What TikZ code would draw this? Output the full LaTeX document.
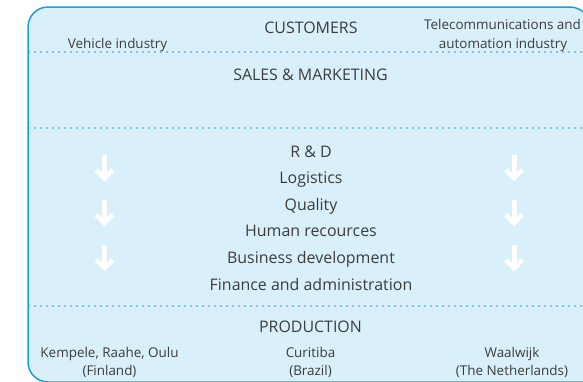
\documentclass[tikz,border=0pt]{standalone}
\usepackage{fontspec}
\setmainfont{Open Sans}
\definecolor{boxfill}{HTML}{D9F0FA}
\definecolor{boxline}{HTML}{1A9FDB}
\definecolor{txt}{HTML}{3C3C3C}
\begin{document}
\begin{tikzpicture}[x=1bp,y=-1bp,
  big/.style={font=\fontsize{16}{19}\selectfont, text=txt, anchor=base, inner sep=0pt},
  small/.style={font=\fontsize{13.5}{16}\selectfont, text=txt, anchor=base, inner sep=0pt},
  sepline/.style={draw=boxline, line width=1.8bp, dash pattern=on 0pt off 6bp, line cap=round},
  downarrow/.pic={
    \draw[white, line width=5bp] (0,0) -- (0,22);
    \draw[white, line width=4.5bp, line join=miter, miter limit=4] (-8.3,14.8) -- (0,23.2) -- (8.3,14.8);
  }]
\useasboundingbox (0,0) rectangle (583,381);
\begin{scope}
\clip (0,0) rectangle (583,381);
\draw[boxline, fill=boxfill, line width=1.5bp, rounded corners=20bp]
  (620,382) -- (28,382) -- (28,7) -- (590,7) -- (590,420);
\coordinate (l1a) at (29,52);  \coordinate (l1b) at (583,52);
\coordinate (l2a) at (29,128); \coordinate (l2b) at (583,128);
\coordinate (l3a) at (29,306); \coordinate (l3b) at (583,306);
\draw[sepline] (l1a) -- (l1b);
\draw[sepline] (l2a) -- (l2b);
\draw[sepline] (l3a) -- (l3b);
\end{scope}

\node[big] (cust) at (311,33) {CUSTOMERS};
\node[small] (veh) at (117.5,48) {Vehicle industry};
\node[small] (tel1) at (502.5,29) {Telecommunications and};
\node[small] (tel2) at (503,48) {automation industry};
\node[big] (sales) at (310.5,80) {SALES \& MARKETING};

\node[big] (rd) at (311,157) {R \& D};
\node[big] (log) at (311,183) {Logistics};
\node[big] (qual) at (311,210) {Quality};
\node[big] (hr) at (311,236.5) {Human recources};
\node[big] (bd) at (311,263) {Business development};
\node[big] (fin) at (311,290) {Finance and administration};

\node[big] (prod) at (310.5,332) {PRODUCTION};
\node[small] (kem) at (109.5,357) {Kempele, Raahe, Oulu};
\node[small] (fi) at (109.5,375) {(Finland)};
\node[small] (cur) at (310.5,357) {Curitiba};
\node[small] (br) at (310.5,375) {(Brazil)};
\node[small] (waa) at (512,357) {Waalwijk};
\node[small] (nl) at (512,375) {(The Netherlands)};

\foreach \yy in {155,200,245} {
  \pic at (104.5,\yy) {downarrow};
  \pic at (514,\yy) {downarrow};
}
\end{tikzpicture}
\end{document}
